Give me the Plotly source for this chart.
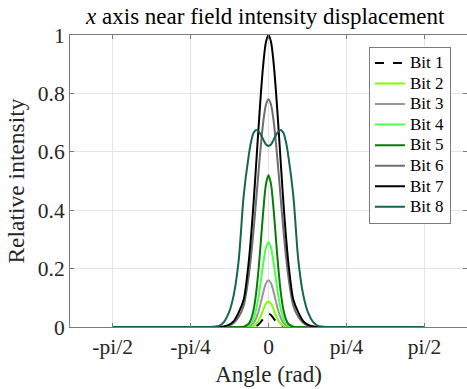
import math
import plotly.graph_objects as go

HP = math.pi / 2
# sample angles (rad)
angles = [-HP, -0.7, -0.6, -0.5, -0.45, -0.4, -0.35, -0.3, -0.25, -0.2, -0.175, -0.15,
          -0.125, -0.1, -0.075, -0.05, -0.025, 0.0, 0.025, 0.05, 0.075, 0.1, 0.125,
          0.15, 0.175, 0.2, 0.25, 0.3, 0.35, 0.4, 0.45, 0.5, 0.6, 0.7, HP]

bit1 = [0, 0, 0, 0, 0, 0, 0, 0, 0, 0, 0, 0.001, 0.0034, 0.0086, 0.018, 0.030, 0.041, 0.045,
        0.041, 0.030, 0.018, 0.0086, 0.0034, 0.001, 0, 0, 0, 0, 0, 0, 0, 0, 0, 0, 0]
bit2 = [0, 0, 0, 0, 0, 0, 0, 0, 0, 0, 0.001, 0.004, 0.010, 0.022, 0.040, 0.0615, 0.080, 0.087,
        0.080, 0.0615, 0.040, 0.022, 0.010, 0.004, 0.001, 0, 0, 0, 0, 0, 0, 0, 0, 0, 0]
bit3 = [0, 0, 0, 0, 0, 0, 0, 0, 0, 0.002, 0.006, 0.014, 0.030, 0.054, 0.087, 0.122, 0.150, 0.160,
        0.150, 0.122, 0.087, 0.054, 0.030, 0.014, 0.006, 0.002, 0, 0, 0, 0, 0, 0, 0, 0, 0]
bit4 = [0, 0, 0, 0, 0, 0, 0, 0, 0, 0.005, 0.013, 0.029, 0.059, 0.104, 0.163, 0.225, 0.272, 0.290,
        0.272, 0.225, 0.163, 0.104, 0.059, 0.029, 0.013, 0.005, 0, 0, 0, 0, 0, 0, 0, 0, 0]
bit5 = [0, 0, 0, 0, 0, 0, 0, 0, 0.001, 0.011, 0.027, 0.059, 0.115, 0.198, 0.302, 0.409, 0.490, 0.520,
        0.490, 0.409, 0.302, 0.198, 0.115, 0.059, 0.027, 0.011, 0.001, 0, 0, 0, 0, 0, 0, 0, 0]
bit6 = [0, 0, 0, 0, 0.001, 0.005, 0.014, 0.035, 0.073, 0.172, 0.245, 0.333, 0.432, 0.534, 0.630, 0.710, 0.762, 0.780,
        0.762, 0.710, 0.630, 0.534, 0.432, 0.333, 0.245, 0.172, 0.073, 0.035, 0.014, 0.005, 0.001, 0, 0, 0, 0]
bit7 = [0, 0, 0, 0, 0.002, 0.007, 0.020, 0.050, 0.094, 0.220, 0.314, 0.427, 0.554, 0.685, 0.808, 0.910, 0.977, 1.000,
        0.977, 0.910, 0.808, 0.685, 0.554, 0.427, 0.314, 0.220, 0.094, 0.050, 0.020, 0.007, 0.002, 0, 0, 0, 0]
bit8 = [0, 0, 0, 0.004, 0.017, 0.048, 0.110, 0.230, 0.450, 0.585, 0.635, 0.665, 0.675, 0.670, 0.657, 0.640, 0.625, 0.620,
        0.625, 0.640, 0.657, 0.670, 0.675, 0.665, 0.635, 0.585, 0.450, 0.230, 0.110, 0.048, 0.017, 0.004, 0, 0, 0]

names = ["Bit 1", "Bit 2", "Bit 3", "Bit 4", "Bit 5", "Bit 6", "Bit 7", "Bit 8"]
series = [bit1, bit2, bit3, bit4, bit5, bit6, bit7, bit8]
colors = ["#000000", "#80ff00", "#999999", "#4dff4d", "#0b7a0b", "#6e6e6e", "#000000", "#16664f"]
dashes = ["dash", "solid", "solid", "solid", "solid", "solid", "solid", "solid"]

xtick_vals = [-math.pi / 2, -math.pi / 4, 0, math.pi / 4, math.pi / 2]
xtick_text = ["-pi/2", "-pi/4", "0", "pi/4", "pi/2"]
ytick_vals = [0, 0.2, 0.4, 0.6, 0.8, 1]
ytick_text = ["0", "0.2", "0.4", "0.6", "0.8", "1"]

FONT = "Liberation Serif"

fig = go.Figure()
for n, s, c, d in zip(names, series, colors, dashes):
    fig.add_trace(go.Scatter(x=angles, y=s, name='<span style="font-size:17px">' + n + '</span>',
                             mode="lines",
                             line=dict(color=c, width=2, dash=d, shape="spline", smoothing=0.8)))

axis_common = dict(showline=True, linecolor="#7a7a7a", linewidth=1, mirror="ticks",
                   ticks="inside", ticklen=4, tickcolor="#7a7a7a",
                   showgrid=True, gridcolor="#e5e5e5", gridwidth=1, zeroline=False,
                   tickfont=dict(family=FONT, size=21.5, color="#262626"))

fig.update_layout(
    width=467, height=389,
    margin=dict(l=70, r=0, t=35, b=62),
    paper_bgcolor="white", plot_bgcolor="white",
    font=dict(family=FONT, color="#262626"),
    title=dict(text="<i>x</i> axis near field intensity displacement",
               x=0.568, xanchor="center", y=0.96, yanchor="middle",
               font=dict(family=FONT, size=23, color="#000000")),
    xaxis=dict(range=[-2, 2], tickvals=xtick_vals, ticktext=xtick_text,
               title=dict(text="Angle (rad)", font=dict(family=FONT, size=23, color="#262626"), standoff=8),
               **axis_common),
    yaxis=dict(range=[0, 1], tickvals=ytick_vals, ticktext=ytick_text,
               title=dict(text="Relative intensity", font=dict(family=FONT, size=23.5, color="#262626"), standoff=6),
               **axis_common),
    legend=dict(x=0.753, y=0.96, xanchor="left", yanchor="top",
                bgcolor="white", bordercolor="#7a7a7a", borderwidth=1,
                font=dict(family=FONT, size=13.5, color="#000000"),
                tracegroupgap=0, itemwidth=30),
    showlegend=True,
)

fig.write_html("out.html", config={"displayModeBar": False},
               post_script="document.body.style.margin='0px';")
